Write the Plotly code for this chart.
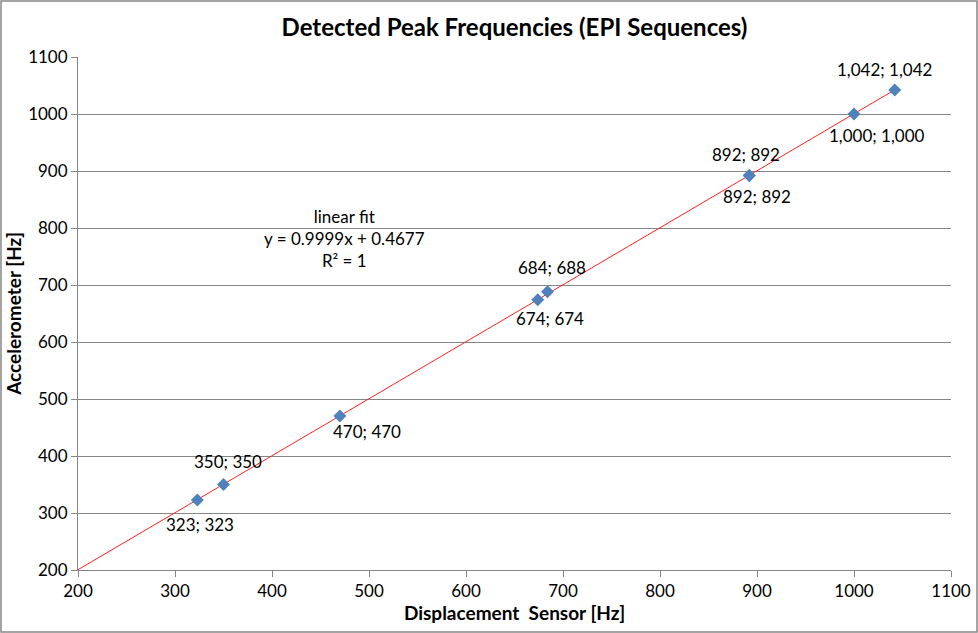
import numpy as np
import plotly.graph_objects as go

# Data
sensor_hz = [323, 350, 470, 674, 684, 892, 892, 1000, 1042]
accel_hz = [323, 350, 470, 674, 688, 892, 892, 1000, 1042]
label_text = ["323; 323", "350; 350", "470; 470", "674; 674", "684; 688",
              "892; 892", "892; 892", "1,000; 1,000", "1,042; 1,042"]
# pixel offsets of each data label (style)
label_dx = [3, 4, 27, 12, 5, -3, 8, 23, -10]
label_dy = [-25, 23, -15, -19, 24, 21, -21, -21, 21]

fit_x = [200, 1042]
x_ticks = [200, 300, 400, 500, 600, 700, 800, 900, 1000, 1100]
y_ticks = [200, 300, 400, 500, 600, 700, 800, 900, 1000, 1100]

slope, intercept = np.polyfit(sensor_hz, accel_hz, 1)
fit_y = [slope * v + intercept for v in fit_x]

FONT = "Lato"
W, H = 978, 633
L, R, T, B = 78, 27, 57, 63

fig = go.Figure()
fig.add_trace(go.Scatter(x=fit_x, y=fit_y, mode="lines",
                         line=dict(color="#FF2020", width=1), hoverinfo="skip"))
fig.add_trace(go.Scatter(x=sensor_hz, y=accel_hz, mode="markers",
                         marker=dict(symbol="diamond", size=10, color="#4F81BD",
                                     line=dict(width=0))))

for x, y, t, dx, dy in zip(sensor_hz, accel_hz, label_text, label_dx, label_dy):
    fig.add_annotation(x=x, y=y, text=t, showarrow=False, xshift=dx, yshift=dy,
                       font=dict(family=FONT, size=17, color="black"))

fig.add_annotation(x=475, y=782, xref="x", yref="y",
                   text="linear fit<br>y = 0.9999x + 0.4677<br>R² = 1",
                   showarrow=False, font=dict(family=FONT, size=17, color="black"))

pw = W - L - R
ph = H - T - B
fig.add_shape(type="rect", xref="paper", yref="paper",
              x0=-(L - 1) / pw, x1=1 + (R - 1) / pw,
              y0=-(B - 1) / ph, y1=1 + (T - 1) / ph,
              line=dict(color="#868686", width=1.5), fillcolor="rgba(0,0,0,0)")

fig.update_layout(
    width=W, height=H, showlegend=False,
    margin=dict(l=L, r=R, t=T, b=B, autoexpand=False),
    paper_bgcolor="white", plot_bgcolor="white",
    title=dict(text="<b>Detected Peak Frequencies (EPI Sequences)</b>",
               x=0.5, xref="paper", y=1 - 28 / H, yanchor="middle",
               automargin=False,
               font=dict(family=FONT, size=24, color="black")),
    font=dict(family=FONT, size=17, color="black"),
)
fig.update_xaxes(range=[200, 1100], tickvals=x_ticks, showgrid=False,
                 automargin=False,
                 showline=True, linecolor="#868686", linewidth=1,
                 ticks="outside", ticklen=6, tickcolor="#868686",
                 tickfont=dict(family=FONT, size=17, color="black"),
                 zeroline=False,
                 title=dict(text="<b>Displacement  Sensor [Hz]</b>", standoff=6,
                            font=dict(family=FONT, size=19, color="black")))
fig.update_yaxes(range=[200, 1100], tickvals=y_ticks, showgrid=True,
                 automargin=False,
                 gridcolor="#868686", gridwidth=1,
                 showline=True, linecolor="#868686", linewidth=1,
                 ticks="outside", ticklen=6, tickcolor="#868686",
                 tickfont=dict(family=FONT, size=17, color="black"),
                 zeroline=False,
                 title=dict(text="<b>Accelerometer [Hz]</b>", standoff=1,
                            font=dict(family=FONT, size=19, color="black")))

fig.write_html("out.html", config={"displayModeBar": False},
               post_script="document.body.style.margin='0';document.body.style.overflow='hidden';")
